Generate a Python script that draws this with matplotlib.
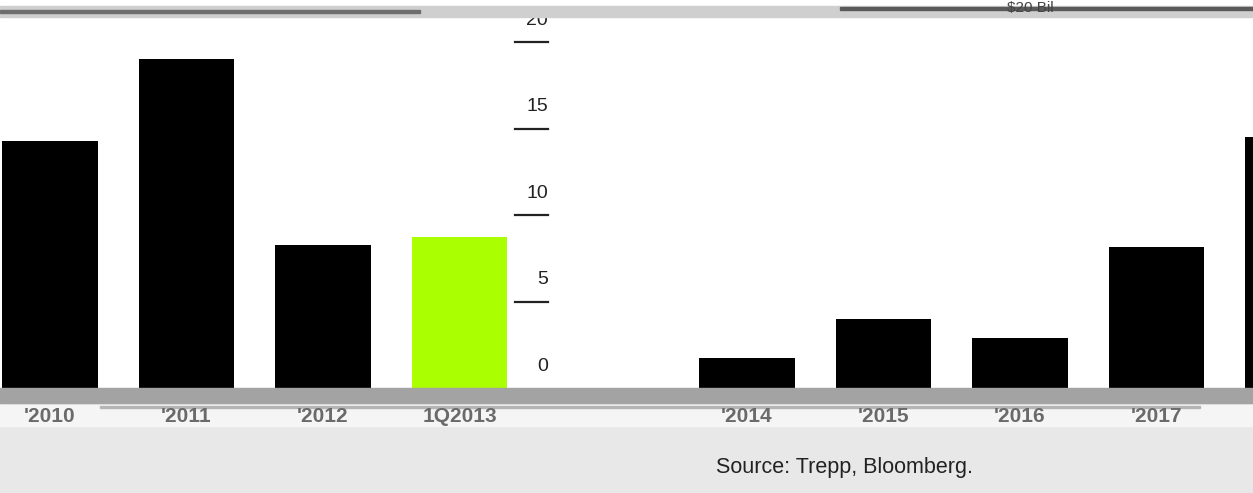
import matplotlib
matplotlib.use("Agg")
import matplotlib.pyplot as plt
import matplotlib.transforms as mtransforms
from matplotlib.patches import Rectangle
import numpy as np

plt.rcParams['font.family'] = ['Liberation Sans', 'DejaVu Sans']

# data ($ billions)
left_labels = ["'2010", "'2011", "'2012", "1Q2013"]
left_values = [14.3, 19.0, 8.25, 8.7]
right_labels = ["'2014", "'2015", "'2016", "'2017"]
right_values = [1.75, 4.0, 2.9, 8.15, 14.5]
ytick_values = [20, 15, 10, 5, 0]

W, H = 1253, 493
fig = plt.figure(figsize=(W / 100, H / 100), dpi=100, facecolor="white")

def fy(px):
    return 1 - px / H

def fx(px):
    return px / W

# bottom grey panels (behind the axes)
fig.patches.append(Rectangle((0, fy(H)), 1, fy(403) - fy(H), transform=fig.transFigure,
                             color="#e8e8e8", zorder=-3))
fig.patches.append(Rectangle((0, fy(426)), 1, fy(405) - fy(426), transform=fig.transFigure,
                             color="#f5f5f5", zorder=-2))
fig.patches.append(Rectangle((fx(100), fy(408)), fx(1100), 0.004, transform=fig.transFigure,
                             color="#b5b5b5", zorder=-1))

ax = fig.add_axes([0, fy(388), 1, fy(20) - fy(388)])
ax.set_facecolor("white")
for s in ax.spines.values():
    s.set_visible(False)
ax.set_xticks([])
ax.set_yticks([])

step = 136.5
x0 = -50 / step
ax.set_xlim(x0, x0 + W / step)
ax.set_ylim(0, 368 / 17.3)

left_x = np.arange(len(left_values))
right_x = np.arange(len(right_values)) + (747 - 50) / step
colors = ["black"] * (len(left_values) - 1) + ["#aaff00"]
ax.bar(left_x, left_values, width=0.70, color=colors, zorder=2)
ax.bar(right_x, right_values, width=0.70, color="black", zorder=2)

# y "axis" drawn in the middle of the chart
blend = mtransforms.blended_transform_factory(ax.transAxes, ax.transData)
for v in ytick_values:
    if v > 0:
        ax.plot([fx(515), fx(548)], [v, v], color="#222222", lw=1.6,
                transform=blend, clip_on=False, zorder=3)
    ax.text(fx(548), v + 1.25, str(v), transform=blend, ha="right", va="center",
            fontsize=14, color="#222222", clip_on=False, zorder=3)

# grey band under the bars
fig.patches.append(Rectangle((0, fy(403)), 1, fy(388) - fy(403), transform=fig.transFigure,
                             color="#a3a3a3", zorder=3))

# x labels
lab_tr = mtransforms.blended_transform_factory(ax.transData, fig.transFigure)
xs = np.concatenate([left_x, right_x[:len(right_labels)]])
for xi, lab in zip(xs, left_labels + right_labels):
    fig.text(0, fy(416), lab, transform=lab_tr, ha="center", va="center",
             fontsize=15, color="#6a6a6a", fontweight="bold", zorder=4).set_x(xi)

# top band
fig.patches.append(Rectangle((0, fy(17)), 1, fy(6) - fy(17), transform=fig.transFigure,
                             color="#cfcfcf", zorder=5))
fig.patches.append(Rectangle((0, fy(13)), fx(420), fy(10) - fy(13), transform=fig.transFigure,
                             color="#6e6e6e", zorder=6))
fig.patches.append(Rectangle((fx(840), fy(10)), fx(420), fy(7) - fy(10), transform=fig.transFigure,
                             color="#5a5a5a", zorder=6))
fig.text(fx(1030), fy(8), "$20 Bil", ha="center", va="center", fontsize=11,
         color="#444444", zorder=7)

fig.text(fx(716), fy(467), "Source: Trepp, Bloomberg.", ha="left", va="center",
         fontsize=15.5, color="#222222")

fig.savefig("out.png", dpi=100, facecolor="white")
